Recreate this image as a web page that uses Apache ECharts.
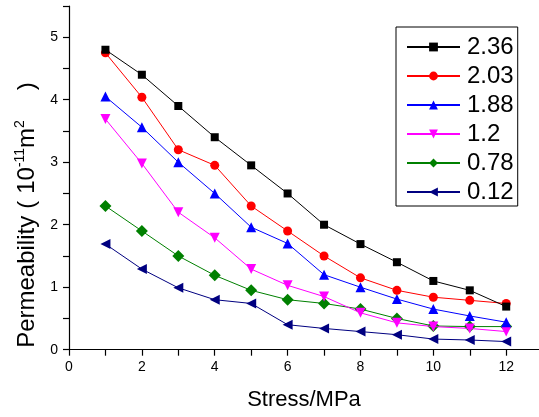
<!DOCTYPE html>
<html>
<head>
<meta charset="utf-8">
<script src="https://cdn.jsdelivr.net/npm/echarts@6/dist/echarts.min.js"></script>
<style>html,body{margin:0;padding:0;background:#fff}#c{width:539px;height:417px}</style>
</head>
<body>
<div id="c"></div>
<script>
const stress = [1,2,3,4,5,6,7,8,9,10,11,12];
const seriesNames = ['2.36','2.03','1.88','1.2','0.78','0.12'];
const s236 = [4.80,4.40,3.90,3.40,2.95,2.50,2.00,1.69,1.40,1.10,0.95,0.69];
const s203 = [4.75,4.04,3.20,2.95,2.30,1.90,1.50,1.15,0.95,0.84,0.79,0.74];
const s188 = [4.05,3.56,3.00,2.50,1.96,1.70,1.20,1.00,0.81,0.65,0.54,0.44];
const s120 = [3.69,2.98,2.20,1.79,1.29,1.03,0.85,0.59,0.43,0.37,0.34,0.29];
const s078 = [2.30,1.90,1.50,1.19,0.95,0.80,0.74,0.65,0.50,0.38,0.37,0.37];
const s012 = [1.69,1.29,0.99,0.80,0.74,0.40,0.34,0.29,0.24,0.17,0.155,0.13];
const xTickLabels = ['0','2','4','6','8','10','12'];
const yTickLabels = ['0','1','2','3','4','5'];

const values = [s236,s203,s188,s120,s078,s012];
const colors = ['#000000','#ff0000','#0000ff','#ff00ff','#008000','#000080'];
const symbols = ['rect','circle','triangle','triangle','diamond','triangle'];
const rotates = [0,0,0,180,0,90];
const sizes = [8,9,10,10,12,10];
const FONT = 'Arial, "Liberation Sans", sans-serif';

const chart = echarts.init(document.getElementById('c'));
chart.setOption({
  animation:false,
  backgroundColor:'#ffffff',
  grid:{left:69,top:6,right:0,bottom:67.3,containLabel:false},
  xAxis:{
    type:'value',min:0,max:12.9,interval:1,
    name:'Stress/MPa',nameLocation:'middle',nameGap:39,
    nameTextStyle:{fontFamily:FONT,fontSize:22,color:'#000'},
    axisLine:{lineStyle:{color:'#000',width:1.2}},
    axisTick:{show:true,inside:false,length:6,lineStyle:{color:'#000',width:1.2}},
    axisLabel:{fontFamily:FONT,fontSize:14,color:'#000',margin:10,showMaxLabel:false,
      formatter:v=>xTickLabels.indexOf(String(v))>=0?String(v):''},
    splitLine:{show:false}
  },
  yAxis:{
    type:'value',min:0,max:5.5,interval:0.5,
    axisLine:{show:true,lineStyle:{color:'#000',width:1.2}},
    axisTick:{show:true,inside:false,length:6,lineStyle:{color:'#000',width:1.2}},
    axisLabel:{fontFamily:FONT,fontSize:14,color:'#000',margin:11,
      formatter:v=>yTickLabels.indexOf(String(v))>=0?String(v):''},
    splitLine:{show:false}
  },
  legend:{
    orient:'vertical',left:396,top:27,
    itemWidth:53,itemHeight:11,itemGap:5,
    padding:[8,4,2,10],
    borderColor:'#000',borderWidth:1,
    textStyle:{fontFamily:FONT,fontSize:24,color:'#000',lineHeight:24,padding:[0,0,0,2]},
    data:seriesNames
  },
  graphic:[{
    type:'text',x:27,y:215,rotation:Math.PI/2,
    style:{
      text:'Permeability{p|(}10{sup|-11}m{sup|2}{q|)}',
      font:'24px Arial, "Liberation Sans", sans-serif',
      fill:'#000',align:'center',verticalAlign:'middle',
      rich:{
        sup:{fontSize:14,fontFamily:FONT,verticalAlign:'top',lineHeight:28},
        p:{fontSize:24,fontFamily:FONT,padding:[0,7,0,7]},
        q:{fontSize:24,fontFamily:FONT,padding:[0,0,0,30]}
      }
    }
  }],
  series:values.map((d,i)=>({
    name:seriesNames[i],type:'line',
    data:stress.map((x,j)=>[x,d[j]]),
    symbol:symbols[i],symbolRotate:rotates[i],symbolSize:sizes[i],
    showAllSymbol:true,
    lineStyle:{color:colors[i],width:1},
    itemStyle:{color:colors[i],borderWidth:0},
    z:10-i
  }))
});
</script>
</body>
</html>
